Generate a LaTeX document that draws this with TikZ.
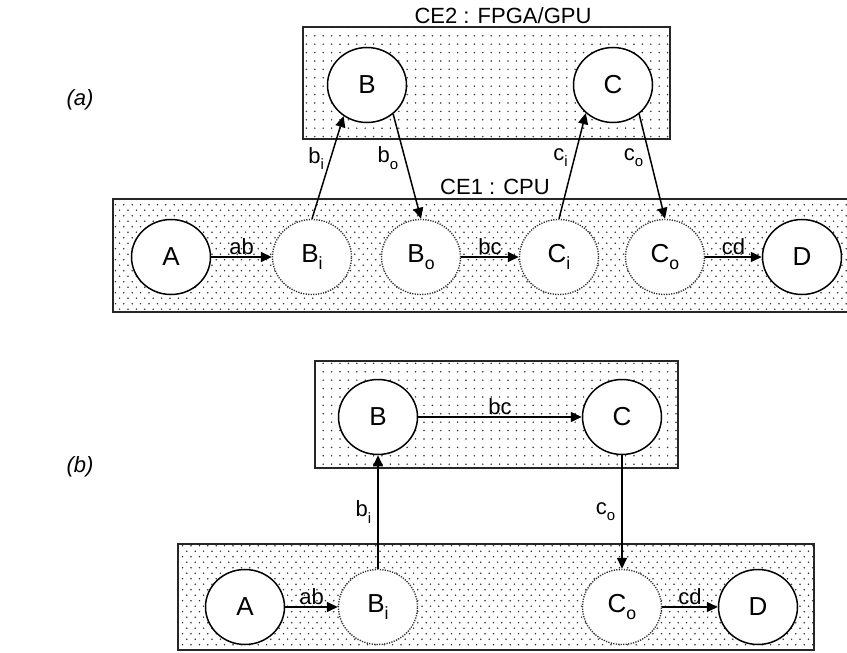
\documentclass[tikz,border=0pt]{standalone}
\usepackage{fontspec}
\usepackage{graphicx}
\setmainfont{Liberation Sans}
\usetikzlibrary{arrows.meta,shapes.geometric,patterns}
\pgfdeclarepatternformonly{sparsedots}{\pgfqpoint{-1pt}{-1pt}}{\pgfqpoint{9.5pt}{9.5pt}}{\pgfqpoint{8.4pt}{8.4pt}}{%
  \pgfpathcircle{\pgfqpoint{4pt}{4pt}}{0.85pt}\pgfusepath{fill}}
\pgfdeclarepatternformonly{densedots}{\pgfqpoint{-1pt}{-1pt}}{\pgfqpoint{9.5pt}{12pt}}{\pgfqpoint{8.4pt}{11pt}}{%
  \pgfpathcircle{\pgfqpoint{2pt}{2.75pt}}{0.85pt}%
  \pgfpathcircle{\pgfqpoint{6.2pt}{8.25pt}}{0.85pt}\pgfusepath{fill}}
\newcommand\lsub[1]{\raisebox{-0.28em}{\scalebox{0.68}{#1}}}
\tikzset{
  every node/.style={font=\fontsize{22}{26}\selectfont},
  sparsebox/.style={draw=black!85, line width=1.6pt, pattern=sparsedots, pattern color=black!80},
  densebox/.style={draw=black!85, line width=1.6pt, pattern=densedots, pattern color=black!80},
  realnode/.style={ellipse, draw=black, line width=1.5pt, fill=white, minimum width=79pt, minimum height=75pt, inner sep=0pt, font=\fontsize{26}{30}\selectfont},
  virtnode/.style={ellipse, draw=black!80, line width=1.4pt, dash pattern=on 1.2pt off 1.3pt, fill=white, minimum width=79pt, minimum height=75pt, inner sep=0pt, font=\fontsize{26}{30}\selectfont},
  flow/.style={line width=1.5pt, -{Triangle[length=11pt,width=10pt]}},
  elabel/.style={font=\fontsize{22}{26}\selectfont, inner sep=2pt},
  boxlabel/.style={font=\fontsize{22}{26}\selectfont, inner sep=0pt},
  partlabel/.style={font=\fontsize{22}{26}\selectfont\itshape, inner sep=0pt}
}
\begin{document}
\begin{tikzpicture}[x=1pt,y=-1pt]
\useasboundingbox (0,0) rectangle (847,653);
% ---------- (a) ----------
\node[partlabel] (la) at (80,100) {(a)};
\draw[sparsebox] (303,27) rectangle (670,139);
\node[boxlabel] (ce2) at (503,16) {CE2 : FPGA/GPU};
\draw[densebox] (113,199) rectangle (852,312);
\node[boxlabel] (ce1) at (495,187) {CE1 : CPU};

\node[realnode] (aB) at (367,85) {B};
\node[realnode] (aC) at (613,85) {C};
\node[realnode] (aA) at (171,257) {A};
\node[virtnode] (aBi) at (312,257) {B\lsub{i}};
\node[virtnode] (aBo) at (421,257) {B\lsub{o}};
\node[virtnode] (aCi) at (559,257) {C\lsub{i}};
\node[virtnode] (aCo) at (665,257) {C\lsub{o}};
\node[realnode] (aD) at (802,257) {D};

\draw[flow] (aA) -- node[elabel, above] {ab} (aBi);
\draw[flow] (aBo) -- node[elabel, above] {bc} (aCi);
\draw[flow] (aCo) -- node[elabel, above] {cd} (aD);
\draw[flow] (aBi.north) -- node[elabel, pos=0.59, left=4pt] {b\lsub{i}} (aB.233);
\draw[flow] (aB.-48) -- node[elabel, pos=0.42, left=4pt] {b\lsub{o}} (aBo.north);
\draw[flow] (aCi.north) -- node[elabel, pos=0.58, left=4pt] {c\lsub{i}} (aC.226);
\draw[flow] (aC.-48) -- node[elabel, pos=0.42, left=4pt] {c\lsub{o}} (aCo.north);

% ---------- (b) ----------
\node[partlabel] (lb) at (80,467) {(b)};
\draw[sparsebox] (315,361) rectangle (678,468);
\draw[densebox] (178,544) rectangle (814,650);

\node[realnode] (bB) at (378,417) {B};
\node[realnode] (bC) at (622,417) {C};
\node[realnode] (bA) at (245,607) {A};
\node[virtnode] (bBi) at (378,607) {B\lsub{i}};
\node[virtnode] (bCo) at (622,607) {C\lsub{o}};
\node[realnode] (bD) at (758,607) {D};

\draw[flow] (bB) -- node[elabel, above] {bc} (bC);
\draw[flow] (bA) -- node[elabel, above] {ab} (bBi);
\draw[flow] (bCo) -- node[elabel, above] {cd} (bD);
\draw[flow] (bBi) -- node[elabel, pos=0.5, left=4pt] {b\lsub{i}} (bB);
\draw[flow] (bC) -- node[elabel, pos=0.5, left=4pt] {c\lsub{o}} (bCo);
\end{tikzpicture}
\end{document}
